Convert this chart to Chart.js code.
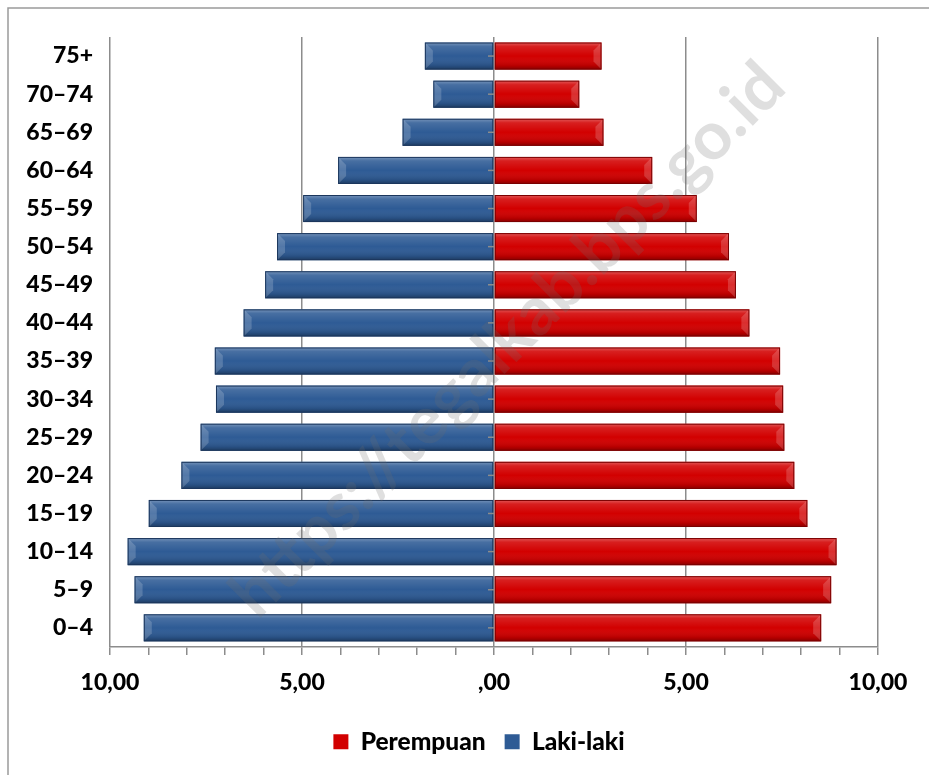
<!DOCTYPE html>
<html>
<head>
<meta charset="utf-8">
<script src="https://cdn.jsdelivr.net/npm/chart.js@4/dist/chart.umd.min.js"></script>
<style>
  html, body { margin: 0; padding: 0; background: #fff; }
  #wrap { width: 929px; height: 775px; position: relative; }
</style>
</head>
<body>
<div id="wrap"><canvas id="myChart" width="929" height="775"></canvas></div>
<script>
// age groups, top to bottom
var ageGroups = ['75+', '70–74', '65–69', '60–64', '55–59', '50–54', '45–49', '40–44',
                 '35–39', '30–34', '25–29', '20–24', '15–19', '10–14', '5–9', '0–4'];
// percent of population
var lakiLaki = [1.80, 1.58, 2.38, 4.06, 4.97, 5.65, 5.96, 6.52,
                7.27, 7.24, 7.64, 8.14, 8.99, 9.54, 9.36, 9.12];
var perempuan = [2.80, 2.22, 2.85, 4.12, 5.28, 6.12, 6.30, 6.65,
                 7.45, 7.53, 7.56, 7.82, 8.16, 8.92, 8.78, 8.52];
var xTicks = [-10, -5, 0, 5, 10];
var watermark = 'https://tegalkab.bps.go.id';

var FONT = 'Lato, "Open Sans", sans-serif';
var GRID = '#8c8c8c';

function fmt(v) {
    if (v === 0) return ',00';
    return Math.abs(v).toFixed(2).replace('.', ',');
}

// gradient + bevel look on every bar, using the bar geometry from chart.js
var bevelPlugin = {
    id: 'bevel',
    afterLayout: function (chart) {
        // legend sits a bit right of the canvas centre in the original
        chart.legend.left += 40;
        chart.legend.right += 40;
    },
    afterDatasetsDraw: function (chart) {
        var ctx = chart.ctx;
        chart.data.datasets.forEach(function (ds, di) {
            var meta = chart.getDatasetMeta(di);
            var dark = ds.shade;
            meta.data.forEach(function (bar) {
                var p = bar.getProps(['x', 'y', 'base', 'height'], true);
                var x0 = Math.min(p.x, p.base), x1 = Math.max(p.x, p.base);
                var y0 = p.y - p.height / 2, y1 = p.y + p.height / 2;
                ctx.save();
                var g = ctx.createLinearGradient(0, y0, 0, y1);
                g.addColorStop(0, 'rgba(255,255,255,0.35)');
                g.addColorStop(0.15, 'rgba(255,255,255,0.12)');
                g.addColorStop(0.5, 'rgba(255,255,255,0)');
                g.addColorStop(0.85, 'rgba(0,0,0,0.12)');
                g.addColorStop(1, 'rgba(0,0,0,0.35)');
                ctx.fillStyle = g;
                ctx.fillRect(x0, y0, x1 - x0, y1 - y0);
                // bevel on the outer end
                var b = 8;
                var outer = p.x < p.base ? x0 : x1;
                var dir = p.x < p.base ? 1 : -1;
                ctx.fillStyle = 'rgba(255,255,255,0.18)';
                ctx.beginPath();
                ctx.moveTo(outer, y0);
                ctx.lineTo(outer + dir * b, y0 + b);
                ctx.lineTo(outer + dir * b, y1 - b);
                ctx.lineTo(outer, y1);
                ctx.closePath();
                ctx.fill();
                ctx.strokeStyle = dark;
                ctx.lineWidth = 1;
                ctx.strokeRect(x0 + 0.5, y0 + 0.5, x1 - x0 - 1, y1 - y0 - 1);
                ctx.restore();
            });
        });
    },
    afterDraw: function (chart) {
        var ctx = chart.ctx;
        var xs = chart.scales.x, ys = chart.scales.y;
        var x0 = xs.getPixelForValue(0);
        ctx.save();
        // small ticks on the centre axis
        ctx.strokeStyle = GRID;
        ctx.lineWidth = 1.5;
        ageGroups.forEach(function (a, i) {
            var y = ys.getPixelForValue(i);
            ctx.beginPath();
            ctx.moveTo(x0 - 6, y);
            ctx.lineTo(x0, y);
            ctx.stroke();
        });
        // outer frame
        ctx.strokeStyle = '#9a9a9a';
        ctx.lineWidth = 1.5;
        ctx.beginPath();
        ctx.moveTo(8, 775);
        ctx.lineTo(8, 8);
        ctx.lineTo(929, 8);
        ctx.stroke();
        // watermark
        ctx.translate(508, 340);
        ctx.rotate(-Math.PI / 4);
        ctx.font = 'bold 67px ' + FONT;
        ctx.fillStyle = 'rgba(110,110,110,0.22)';
        ctx.textAlign = 'center';
        ctx.textBaseline = 'middle';
        ctx.fillText(watermark, 0, 0);
        ctx.restore();
    }
};

document.addEventListener("DOMContentLoaded", function () {
    var ctx = document.getElementById('myChart').getContext('2d');
    var chart = new Chart(ctx, {
        type: 'bar',
        data: {
            labels: ageGroups,
            datasets: [{
                label: 'Perempuan',
                backgroundColor: '#d20000',
                shade: '#7a0000',
                data: perempuan
            }, {
                label: 'Laki-laki',
                backgroundColor: '#2e5b95',
                shade: '#1b365c',
                data: lakiLaki.map(function (v) { return -v; })
            }]
        },
        options: {
            indexAxis: 'y',
            responsive: false,
            animation: false,
            layout: { padding: { top: 37, right: 51, left: 0, bottom: 11 } },
            datasets: { bar: { barPercentage: 1, categoryPercentage: 0.71 } },
            scales: {
                x: {
                    stacked: true,
                    min: -10,
                    max: 10,
                    afterBuildTicks: function (scale) {
                        var t = [];
                        for (var v = -10; v <= 10; v++) t.push({ value: v });
                        scale.ticks = t;
                    },
                    ticks: {
                        autoSkip: false,
                        maxRotation: 0,
                        padding: 14,
                        color: '#000',
                        font: { family: FONT, size: 23, weight: '900' },
                        callback: function (v) { return xTicks.indexOf(v) >= 0 ? fmt(v) : ''; }
                    },
                    grid: {
                        color: function (c) {
                            return c.tick && xTicks.indexOf(c.tick.value) >= 0 ? GRID : 'rgba(0,0,0,0)';
                        },
                        tickColor: GRID,
                        lineWidth: 1.5,
                        tickLength: 8
                    },
                    border: { display: true, color: GRID, width: 1.5 }
                },
                y: {
                    stacked: true,
                    afterFit: function (scale) { scale.width = 110; },
                    ticks: {
                        padding: 17,
                        color: '#000',
                        font: { family: FONT, size: 23, weight: '900' }
                    },
                    grid: { display: false, drawTicks: false },
                    border: { display: false }
                }
            },
            plugins: {
                legend: {
                    position: 'bottom',
                    labels: {
                        boxWidth: 15,
                        boxHeight: 15,
                        padding: 19,
                        color: '#000',
                        font: { family: FONT, size: 24.5, weight: '900' }
                    }
                },
                tooltip: { enabled: false }
            }
        },
        plugins: [bevelPlugin]
    });
});
</script>
</body>
</html>
